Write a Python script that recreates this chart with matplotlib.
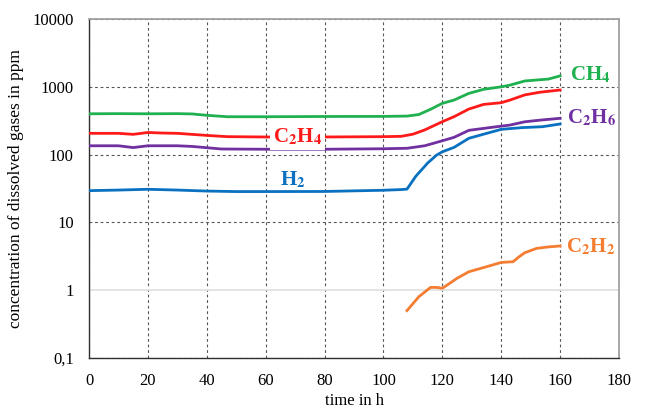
import matplotlib
matplotlib.use("Agg")
import matplotlib.pyplot as plt
from matplotlib.ticker import FixedLocator, FixedFormatter

plt.rcParams['font.family'] = ['Liberation Serif', 'DejaVu Serif']
plt.rcParams['mathtext.fontset'] = 'stix'

# readings (time in h, concentration in ppm)
t_ch4 = [0, 10, 20, 30, 35, 40, 47, 60, 80, 100, 108, 112, 116, 120, 124, 129,
         134, 140, 143, 148, 152, 156, 160]
v_ch4 = [400, 402, 400, 402, 398, 380, 362, 362, 365, 366, 370, 390, 466, 571,
         638, 800, 918, 1000, 1060, 1220, 1260, 1300, 1450]

t_c2h4 = [0, 10, 15, 20, 25, 30, 40, 47, 60, 80, 100, 106, 110, 114, 120, 124,
          129, 134, 140, 143, 148, 153, 160]
v_c2h4 = [206, 206, 199, 212, 208, 206, 192, 184, 182, 182, 184, 186, 200, 231,
          306, 363, 470, 550, 583, 638, 760, 830, 898]

t_c2h6 = [0, 10, 15, 20, 30, 35, 45, 60, 80, 100, 108, 114, 120, 124, 129, 136,
          143, 148, 154, 160]
v_c2h6 = [135, 135, 127, 135, 135, 132, 121, 120, 120, 122, 124, 135, 160, 180,
          228, 250, 273, 305, 325, 343]

t_h2 = [0, 10, 20, 30, 40, 50, 60, 80, 100, 106, 108, 111, 115, 118, 120, 124,
        129, 134, 140, 147, 154, 160]
v_h2 = [29.4, 30, 30.8, 30, 29, 28.5, 28.5, 28.6, 29.8, 30.5, 31, 48, 75, 98,
        110, 128, 174, 200, 236, 250, 258, 283]

t_c2h2 = [108, 112, 116, 118, 120, 122, 125, 129, 135, 140, 144, 146, 148, 152,
          156, 160]
v_c2h2 = [0.50, 0.80, 1.10, 1.10, 1.07, 1.22, 1.50, 1.87, 2.22, 2.57, 2.63, 3.1,
          3.57, 4.14, 4.35, 4.49]

x_ticks = [0, 20, 40, 60, 80, 100, 120, 140, 160, 180]
y_ticks = [0.1, 1, 10, 100, 1000, 10000]
y_tick_labels = ['0,1', '1', '10', '100', '1000', '10000']

GREEN = '#1fb04f'
RED = '#ff1a1a'
PURPLE = '#7030a0'
BLUE = '#0a70c0'
ORANGE = '#f47d32'


def main():
    fig = plt.figure(figsize=(6.45, 4.09), dpi=100)
    ax = fig.add_axes([0.138, 0.1247, 0.8217, 0.8288])

    lw = 2.0
    ax.plot(t_ch4, v_ch4, color=GREEN, lw=lw, zorder=3)
    ax.plot(t_c2h4, v_c2h4, color=RED, lw=lw, zorder=3)
    ax.plot(t_c2h6, v_c2h6, color=PURPLE, lw=lw, zorder=3)
    ax.plot(t_h2, v_h2, color=BLUE, lw=lw, zorder=3)
    ax.plot(t_c2h2, v_c2h2, color=ORANGE, lw=lw, zorder=3)

    ax.set_yscale('log')
    ax.set_xlim(0, 180)
    ax.set_ylim(0.1, 10000)
    ax.xaxis.set_major_locator(FixedLocator(x_ticks))
    ax.yaxis.set_major_locator(FixedLocator(y_ticks))
    ax.yaxis.set_major_formatter(FixedFormatter(y_tick_labels))
    ax.yaxis.set_minor_locator(FixedLocator([]))
    ax.tick_params(axis='both', length=0, labelsize=12)
    ax.tick_params(axis='x', pad=11)
    ax.tick_params(axis='y', pad=11)

    # dashed grid, but the line at 1 is plain light grey
    ax.grid(True, color='#555555', ls=(0, (2.5, 2.5)), lw=0.8, zorder=1)
    for val, gl in zip(y_ticks, ax.get_ygridlines()):
        if val == 1:
            gl.set_linestyle('-')
            gl.set_color('#e2e2e2')
            gl.set_linewidth(1.3)
    ax.set_axisbelow(True)

    for side in ['left', 'bottom']:
        ax.spines[side].set_color('#303030')
        ax.spines[side].set_linewidth(1.0)
    for side in ['top', 'right']:
        ax.spines[side].set_color('#a0a0a0')
        ax.spines[side].set_linewidth(1.3)

    ax.set_xlabel('time in h', fontsize=12, labelpad=3)
    ax.set_ylabel('concentration of dissolved gases in ppm', fontsize=12.5,
                  labelpad=6)

    # series labels
    lab = dict(fontsize=15, fontweight='bold', va='center', ha='left')
    ax.text(163.5, 1480, r'CH$_\mathbf{4}$', color=GREEN, **lab)
    ax.text(162.5, 345, r'C$_\mathbf{2}$H$_\mathbf{6}$', color=PURPLE, **lab)
    ax.text(162, 4.4, r'C$_\mathbf{2}$H$_\mathbf{2}$', color=ORANGE, **lab)
    ax.text(62.5, 183, r'C$_\mathbf{2}$H$_\mathbf{4}$', color=RED, zorder=4,
            bbox=dict(facecolor='white', edgecolor='none', pad=2), **lab)
    ax.text(65, 42, r'H$_\mathbf{2}$', color=BLUE, **lab)

    fig.savefig('out.png', dpi=100)


if __name__ == "__main__":
    main()
